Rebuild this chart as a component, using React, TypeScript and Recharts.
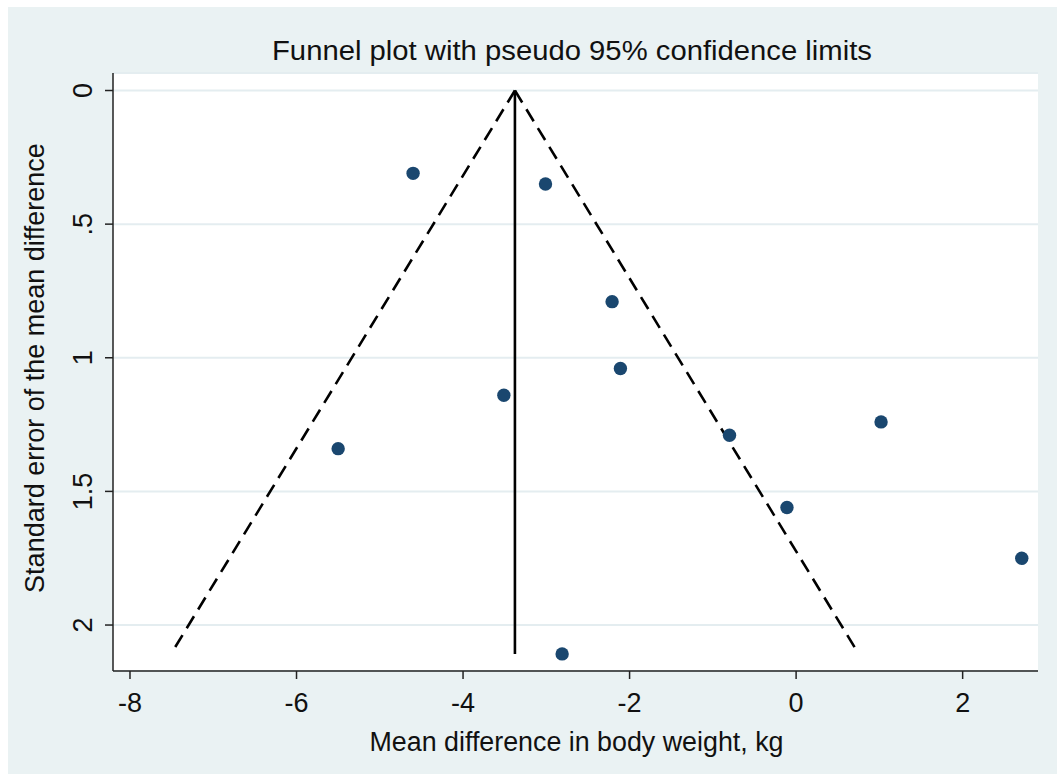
import { ScatterChart, Scatter, XAxis, YAxis, CartesianGrid } from "recharts";

// study estimates
const studyEffect = [-4.6, -3.01, -2.21, -2.11, -3.51, -5.5, -0.8, 1.02, -0.11, 2.71, -2.81];
const studySE = [0.31, 0.35, 0.79, 1.04, 1.14, 1.34, 1.29, 1.24, 1.56, 1.75, 2.108];

const pooledLine = [
  { x: -3.377, y: 0 },
  { x: -3.377, y: 2.108 },
];
const lowerLimit = [
  { x: -3.377, y: 0 },
  { x: -7.507, y: 2.108 },
];
const upperLimit = [
  { x: -3.377, y: 0 },
  { x: 0.752, y: 2.108 },
];

const xTicks = [-8, -6, -4, -2, 0, 2];
const yTicks = [0, 0.5, 1, 1.5, 2];
const yTickLabels = ["0", ".5", "1", "1.5", "2"];

const studies = studyEffect.map((x, i) => ({ x, y: studySE[i] }));

const FONT = '"Liberation Sans", Arial, sans-serif';
const BG = "#eaf2f3";
const INK = "#111111";

function YTick({ x, y, payload }: any) {
  const idx = yTicks.indexOf(payload.value);
  return (
    <text
      transform={`translate(${x},${y}) rotate(-90)`}
      textAnchor="middle"
      fontSize={27}
      fontFamily={FONT}
      fill={INK}
    >
      {idx >= 0 ? yTickLabels[idx] : payload.value}
    </text>
  );
}

function Dot({ cx, cy }: any) {
  return <circle cx={cx} cy={cy} r={6.7} fill="#1a476f" />;
}

const noShape = () => <g />;

const dashed = { stroke: "#000", strokeWidth: 2.6, strokeDasharray: "14 8", fill: "none" };

export default function App() {
  return (
    <div
      style={{
        position: "fixed",
        left: 8,
        top: 7,
        width: 1049,
        height: 767,
        background: BG,
      }}
    >
      <ScatterChart
        width={1049}
        height={767}
        margin={{ top: 66, right: 19, bottom: 13, left: 0 }}
      >
        <CartesianGrid
          horizontal
          vertical={false}
          fill="#ffffff"
          stroke="#e4edf0"
          strokeWidth={2}
        />
        <XAxis
          type="number"
          dataKey="x"
          domain={[-8.204, 2.905]}
          ticks={xTicks}
          allowDataOverflow
          height={90}
          tickSize={8}
          tickMargin={14}
          axisLine={{ stroke: "#222", strokeWidth: 1.5 }}
          tickLine={{ stroke: "#222", strokeWidth: 1.5 }}
          tick={{ fontSize: 27, fill: INK, fontFamily: FONT }}
          label={{
            content: (p: any) => {
              const vb = p.viewBox;
              return (
                <text
                  x={vb.x + vb.width / 2 + 1}
                  y={vb.y + 80}
                  textAnchor="middle"
                  fontSize={27}
                  fontFamily={FONT}
                  fill={INK}
                  textLength={414}
                  lengthAdjust="spacingAndGlyphs"
                >
                  Mean difference in body weight, kg
                </text>
              );
            },
          }}
        />
        <YAxis
          type="number"
          dataKey="y"
          reversed
          domain={[-0.0655, 2.172]}
          ticks={yTicks}
          allowDataOverflow
          width={105}
          tickSize={8}
          tickMargin={13}
          axisLine={{ stroke: "#222", strokeWidth: 1.5 }}
          tickLine={{ stroke: "#222", strokeWidth: 1.5 }}
          tick={<YTick />}
          label={{
            content: (p: any) => {
              const vb = p.viewBox;
              const cy = vb.y + vb.height / 2 - 4;
              return (
                <text
                  transform={`translate(36,${cy}) rotate(-90)`}
                  textAnchor="middle"
                  fontSize={27}
                  fontFamily={FONT}
                  fill={INK}
                >
                  Standard error of the mean difference
                </text>
              );
            },
          }}
        />
        <Scatter
          data={lowerLimit}
          line={dashed}
          shape={noShape}
          isAnimationActive={false}
        />
        <Scatter
          data={upperLimit}
          line={dashed}
          shape={noShape}
          isAnimationActive={false}
        />
        <Scatter
          data={pooledLine}
          line={{ stroke: "#000", strokeWidth: 2.6, fill: "none" }}
          shape={noShape}
          isAnimationActive={false}
        />
        <Scatter data={studies} shape={<Dot />} isAnimationActive={false} />
      </ScatterChart>
      <svg
        width={1049}
        height={80}
        style={{ position: "absolute", left: 0, top: 0, pointerEvents: "none" }}
      >
        <text
          x={564}
          y={53}
          textAnchor="middle"
          fontSize={27}
          fontFamily={FONT}
          fill={INK}
          textLength={600}
          lengthAdjust="spacingAndGlyphs"
        >
          Funnel plot with pseudo 95% confidence limits
        </text>
      </svg>
    </div>
  );
}
